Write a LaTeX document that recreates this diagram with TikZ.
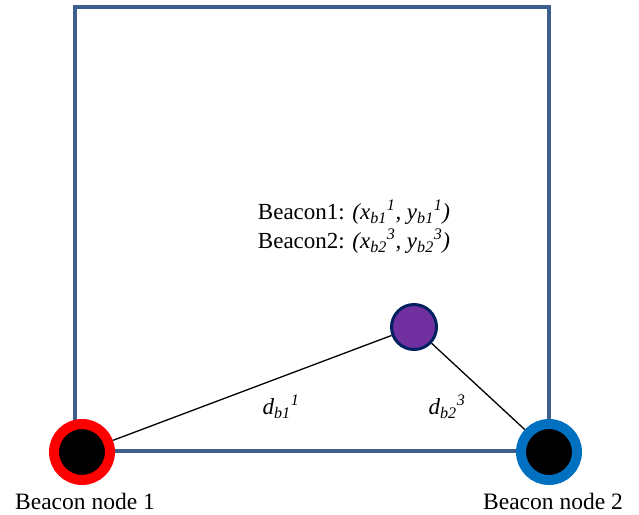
\documentclass[tikz,border=0pt]{standalone}
\usepackage{fontspec}
\setmainfont{Liberation Serif}
\usetikzlibrary{positioning}
\definecolor{areaedge}{HTML}{3D5F8C}
\definecolor{ringred}{HTML}{FF0000}
\definecolor{ringblue}{HTML}{0070C0}
\definecolor{mobilefill}{HTML}{7030A0}
\definecolor{mobileedge}{HTML}{002060}

\begin{document}
\begin{tikzpicture}[
    x=1pt, y=-1pt,
    area/.style={draw=areaedge, line width=4pt},
    beacon/.style={circle, fill=black, minimum size=56pt, line width=10pt, inner sep=0pt},
    mobile/.style={circle, fill=mobilefill, draw=mobileedge, minimum size=45pt, line width=3pt, inner sep=0pt},
    distline/.style={black, line width=1.3pt},
    caption/.style={font=\fontsize{23.5}{27}\selectfont, inner sep=0pt},
    formula/.style={font=\fontsize{23}{27}\selectfont, inner sep=0pt},
]
\useasboundingbox (0,0) rectangle (639,514);

% Deployment area
\draw[area] (75,7) rectangle (549,451);

% Beacons and unknown node
\node[beacon, draw=ringred] (beacon1) at (82,452) {};
\node[beacon, draw=ringblue] (beacon2) at (549,452) {};
\node[mobile] (target) at (414,327) {};

% Distances
\draw[distline] (beacon1) -- (target);
\draw[distline] (target) -- (beacon2);

% Labels
\node[caption] (name1) at (85,501) {Beacon node 1};
\node[caption] (name2) at (553,501) {Beacon node 2};
\node[formula] (dist1) at (281,407) {\textit{d\textsubscript{b1}\textsuperscript{1}}};
\node[formula] (dist2) at (447,407) {\textit{d\textsubscript{b2}\textsuperscript{3}}};
\node[formula] (coord1) at (354,212) {Beacon1: \textit{(x\textsubscript{b1}\textsuperscript{1}, y\textsubscript{b1}\textsuperscript{1})}};
\node[formula] (coord2) at (354,241) {Beacon2: \textit{(x\textsubscript{b2}\textsuperscript{3}, y\textsubscript{b2}\textsuperscript{3})}};

\end{tikzpicture}
\end{document}
